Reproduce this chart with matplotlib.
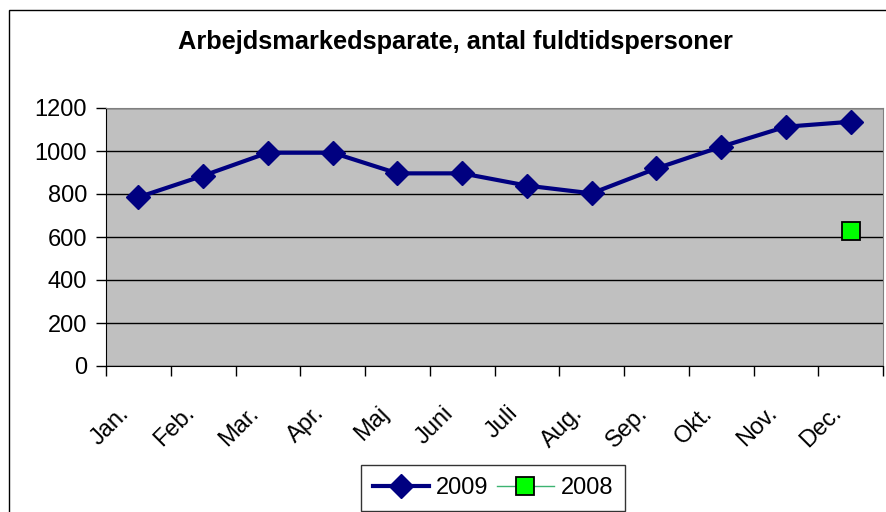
import matplotlib.pyplot as plt
from matplotlib.patches import Rectangle
from matplotlib.transforms import ScaledTranslation

plt.rcParams['font.family'] = ['Liberation Sans', 'DejaVu Sans']

# data
maaneder = ['Jan.', 'Feb.', 'Mar.', 'Apr.', 'Maj', 'Juni', 'Juli', 'Aug.',
            'Sep.', 'Okt.', 'Nov.', 'Dec.']
v2009 = [785, 885, 992, 992, 896, 896, 839, 803, 919, 1020, 1113, 1136]
v2008 = [None] * 11 + [626]
yticks = [0, 200, 400, 600, 800, 1000, 1200]

fig = plt.figure(figsize=(8.87, 5.12), dpi=100)
ax = fig.add_axes([106 / 887, 146 / 512, 777 / 887, 258 / 512])
ax.set_facecolor('#c0c0c0')

# ramme om hele figuren
fig.patches.append(Rectangle((9 / 887, -0.05), 1.0, 1 - 10 / 512 + 0.05,
                             transform=fig.transFigure, fill=False,
                             edgecolor='black', linewidth=1))

x = list(range(len(maaneder)))
ax.plot(x, v2009, color='#000080', linewidth=3, marker='D', markersize=12,
        label='2009', zorder=3)
y08 = [v if v is not None else float('nan') for v in v2008]
ax.plot(x, y08, color='#3cb371', linewidth=1, marker='s', markersize=13,
        markerfacecolor='#00ff00', markeredgecolor='black', markeredgewidth=1.3,
        label='2008', zorder=3)

ax.set_xlim(-0.5, 11.5)
ax.set_ylim(0, 1200)
ax.set_yticks(yticks)
ax.set_yticklabels([str(t) for t in yticks], fontsize=17)
ax.yaxis.grid(True, color='black', linewidth=1)
ax.set_axisbelow(True)

ax.set_xticks([i - 0.5 for i in range(13)], minor=False)
ax.set_xticklabels([])
ax.set_xticks(x, minor=True)
ax.set_xticklabels(maaneder, minor=True, rotation=45, ha='right', va='top',
                   rotation_mode='anchor', fontsize=17)
ax.tick_params(axis='x', which='minor', length=0, pad=26)
ax.tick_params(axis='x', which='major', length=7, width=1, direction='out')
ax.tick_params(axis='y', length=7, width=1, direction='out', pad=6.5)
skub = ScaledTranslation(-20 / 100, 0, fig.dpi_scale_trans)
for lbl in ax.get_xticklabels(minor=True):
    lbl.set_transform(lbl.get_transform() + skub)

for side in ['top', 'right']:
    ax.spines[side].set_color('#808080')
ax.spines['left'].set_color('black')
ax.spines['bottom'].set_color('black')

fig.text(0.513, 1 - 42 / 512, 'Arbejdsmarkedsparate, antal fuldtidspersoner',
         ha='center', va='center', fontsize=18.3, fontweight='bold')

leg = fig.legend(loc='center', bbox_to_anchor=(493 / 887, 1 - 488 / 512), ncol=2,
                 fontsize=17, frameon=True, fancybox=False, edgecolor='black',
                 handlelength=2.4, columnspacing=0.35, handletextpad=0.3,
                 borderpad=0.5, borderaxespad=0)
leg.get_frame().set_linewidth(1)

fig.savefig('out.png', dpi=100)
